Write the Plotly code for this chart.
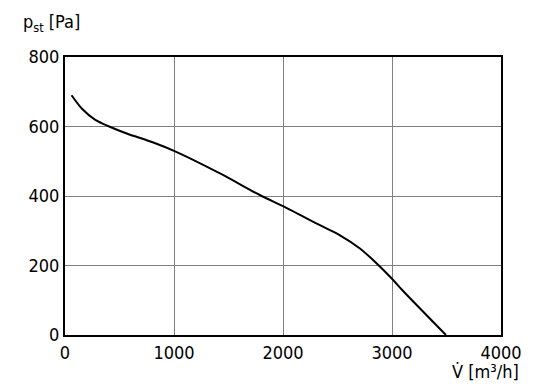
import plotly.graph_objects as go

flow = [60, 156, 278, 405, 566, 810, 1000, 1422, 1804, 2000, 2339, 2523, 2706, 2860, 3000, 3089, 3495]
pressure = [690, 651, 619, 600, 580, 554, 530, 465, 400, 371, 316, 287, 249, 206, 162, 131, 0]
x_ticks = [0, 1000, 2000, 3000, 4000]
y_ticks = [0, 200, 400, 600, 800]

FONT = "DejaVu Sans Condensed, Liberation Sans Narrow, sans-serif"

fig = go.Figure()
fig.add_trace(go.Scatter(x=flow, y=pressure, mode="lines",
                         line=dict(color="black", width=2, shape="spline", smoothing=0.8),
                         showlegend=False, hoverinfo="skip"))

fig.update_layout(
    width=536, height=391,
    margin=dict(l=65, r=35, t=57, b=56),
    paper_bgcolor="white", plot_bgcolor="white",
    font=dict(family=FONT, size=18, color="black"),
    xaxis=dict(range=[0, 4000], tickvals=x_ticks, ticktext=[str(v) for v in x_ticks],
               showgrid=True, gridcolor="#808080", gridwidth=1,
               showline=True, linecolor="black", linewidth=2, mirror=True,
               zeroline=False, ticks="", ticklen=0),
    yaxis=dict(range=[0, 800], tickvals=y_ticks, ticktext=[str(v) for v in y_ticks],
               showgrid=True, gridcolor="#808080", gridwidth=1,
               showline=True, linecolor="black", linewidth=2, mirror=True,
               zeroline=False, ticks="", ticklen=4, tickcolor="white"),
    annotations=[
        dict(text="p<sub>st</sub> [Pa]", xref="paper", yref="paper", x=0, xshift=-44,
             y=1, yshift=20, xanchor="left", yanchor="bottom", showarrow=False,
             font=dict(family=FONT, size=18)),
        dict(text="V\u0307 [m\u00b3/h]", xref="paper", yref="paper", x=1, xshift=20,
             y=0, yshift=-24, xanchor="right", yanchor="top", showarrow=False,
             font=dict(family=FONT, size=18)),
    ],
)

fig.write_html("out.html", config={"displayModeBar": False},
               post_script="document.body.style.margin='0';")
